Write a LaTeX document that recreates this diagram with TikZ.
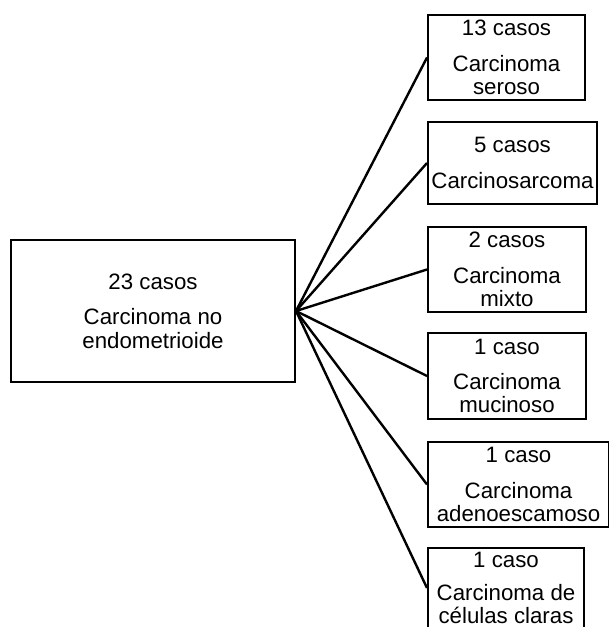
\documentclass[tikz,border=0pt]{standalone}
\usepackage{fontspec}
\setmainfont{Liberation Sans}
\tikzset{
  caja/.style={draw,line width=1.5pt,align=center,inner sep=0pt,
    font=\fontsize{16.7}{17.5}\selectfont},
  rama/.style={line width=1.8pt}
}
\begin{document}
\begin{tikzpicture}[x=0.75pt,y=-0.75pt]
	\useasboundingbox (0,0) rectangle (608,627);
	
	% main box
	\node[caja,minimum width=213pt,minimum height=106.5pt] (main) at (153,311)
		{23 casos\\[9pt]Carcinoma no\\endometrioide};
	
	% boxes on the right
	\node[caja,minimum width=117.75pt,minimum height=63.75pt] (c1) at (506.5,57.5)
		{13 casos\\[9pt]Carcinoma\\seroso};
	\node[caja,minimum width=126.75pt,minimum height=61.5pt] (c2) at (512.5,163)
		{5 casos\\[9pt]Carcinosarcoma};
	\node[caja,minimum width=118.5pt,minimum height=63.75pt] (c3) at (507,269.5)
		{2 casos\\[9pt]Carcinoma\\mixto};
	\node[caja,minimum width=118.5pt,minimum height=64.5pt] (c4) at (507,376)
		{1 caso\\[9pt]Carcinoma\\mucinoso};
	\node[caja,minimum width=135.75pt,minimum height=63.75pt] (c5) at (518.5,484.5)
		{1 caso\\[9pt]Carcinoma\\adenoescamoso};
	\node[caja,minimum width=117pt,minimum height=60pt] (c6) at (506,588)
		{1 caso\\[7pt]Carcinoma de\\células claras};
	
	% lines from main box
	\foreach \b in {c1,c2,c3,c4,c5,c6}
	{
		\draw[rama] (main.east) -- (\b.west);
	}
\end{tikzpicture}
\end{document}
